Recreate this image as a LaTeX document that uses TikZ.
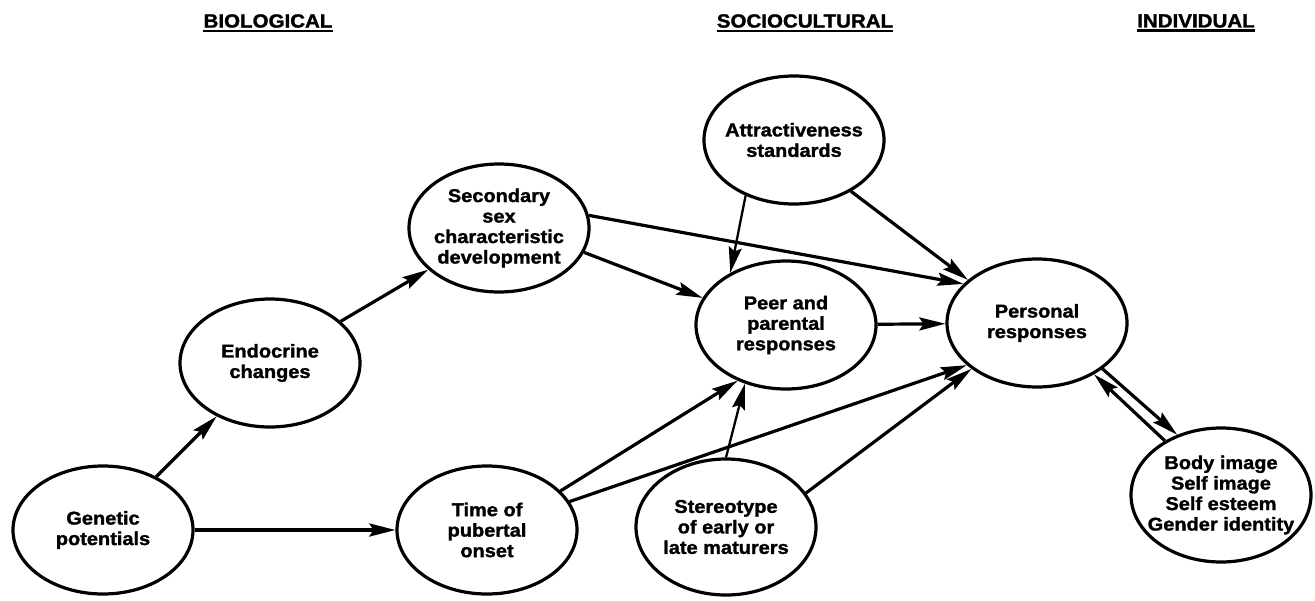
\documentclass[tikz,border=0pt]{standalone}
\usepackage{fontspec}
\newfontfamily\diagfont[FakeStretch=1.08,FakeBold=1.5]{Liberation Sans}
\usetikzlibrary{shapes.geometric,arrows.meta}

\tikzset{
  bubble/.style={ellipse,draw,line width=3.2pt,inner ysep=0pt,inner xsep=-6pt,minimum width=180pt,minimum height=128pt,align=center,font=\diagfont\bfseries\fontsize{18.5}{20.5}\selectfont},
  heading/.style={inner sep=0pt,font=\diagfont\bfseries\fontsize{19}{20}\selectfont},
  link/.style={line width=3.2pt,-{Stealth[length=26pt,width=13pt,inset=4pt]}},
  thinlink/.style={link,line width=2.3pt}
}

\begin{document}
\begin{tikzpicture}[x=1pt,y=-1pt]
\useasboundingbox (0,0) rectangle (1315,600);
\node[heading] (bio) at (268,21) {BIOLOGICAL};
\node[heading] (soc) at (805,21) {SOCIOCULTURAL};
\node[heading] (ind) at (1196,21) {INDIVIDUAL};
\draw[line width=2.8pt] ([yshift=-3pt]bio.south west) -- ([yshift=-3pt]bio.south east);
\draw[line width=2.8pt] ([yshift=-3pt]soc.south west) -- ([yshift=-3pt]soc.south east);
\draw[line width=2.8pt] ([yshift=-3pt]ind.south west) -- ([yshift=-3pt]ind.south east);

\node[bubble] (gen) at (103,530) {Genetic\\potentials};
\node[bubble] (endo) at (270,363) {Endocrine\\changes};
\node[bubble] (sec) at (499,228) {Secondary\\sex\\characteristic\\development};
\node[bubble] (attr) at (794,140) {Attractiveness\\standards};
\node[bubble] (peer) at (786,325) {Peer and\\parental\\responses};
\node[bubble] (pers) at (1037,323) {Personal\\responses};
\node[bubble] (time) at (487,530) {Time of\\pubertal\\onset};
\node[bubble,minimum height=136pt] (stereo) at (726,527) {Stereotype\\of early or\\late maturers};
\node[bubble,minimum height=134pt,inner xsep=-12pt] (body) at (1221,495) {Body image\\Self image\\Self esteem\\Gender identity};

\draw[link] (gen) -- (endo);
\draw[link] (gen) -- (time);
\draw[link] (endo) -- (sec);
\draw[link] (sec.-16) -- (peer.162);
\draw[link] (sec.8) -- (pers.152);
\draw[thinlink] (attr.229) -- (peer.137);
\draw[link] (attr.-42) -- (pers.148);
\draw[link] (peer) -- (pers);
\draw[link] (time.28) -- (peer.229);
\draw[link] (time.19) -- (pers.211);
\draw[thinlink] (stereo.90) -- (peer.235);
\draw[link] (stereo.23) -- (pers.215);
\draw[link] (pers.-35) -- (body.126);
\draw[link] (body.136) -- (pers.-42);
\end{tikzpicture}
\end{document}
